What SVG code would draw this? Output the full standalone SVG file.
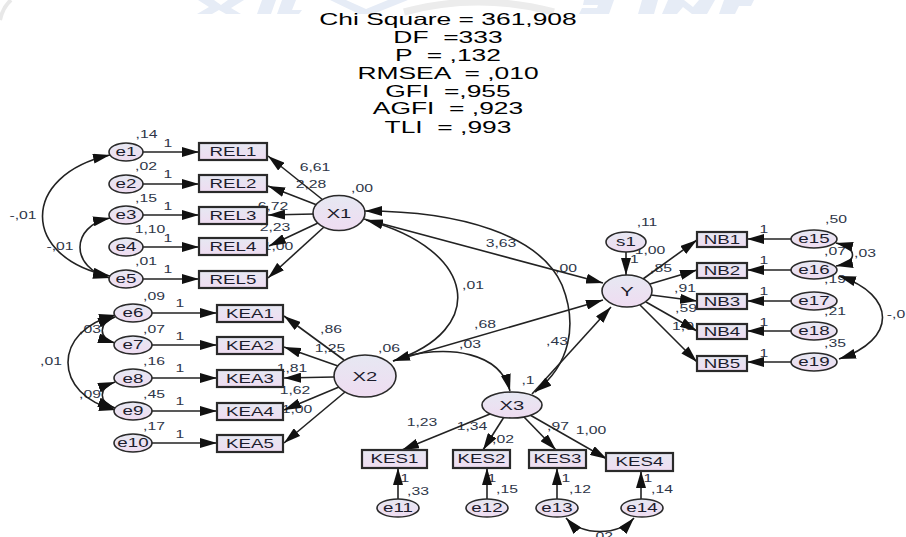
<svg xmlns="http://www.w3.org/2000/svg" width="906" height="537" viewBox="0 0 906 537">
  <defs>
    <linearGradient id="fillNode" x1="0" y1="0" x2="0" y2="1">
      <stop offset="0" stop-color="#e6e8f2"/>
      <stop offset="1" stop-color="#efdcf1"/>
    </linearGradient>
    <marker id="ah" viewBox="0 0 17 10" refX="17" refY="5" markerWidth="17" markerHeight="10" markerUnits="userSpaceOnUse" orient="auto-start-reverse">
      <path d="M0,0 L17,5 L0,10 z" fill="#111"/>
    </marker>
    <style>
      .ov { fill: url(#fillNode); stroke: #2a2a2a; stroke-width: 1.6; }
      .ob { fill: url(#fillNode); stroke: #2a2a2a; stroke-width: 2.2; }
      .nt { font-family: "Liberation Sans", Arial, sans-serif; font-size: 12.5px; fill: #1c1c2c; text-anchor: middle; }
      .lt { font-family: "Liberation Sans", Arial, sans-serif; font-size: 13.5px; fill: #1c1c2c; text-anchor: middle; }
      .cf { font-family: "Liberation Sans", Arial, sans-serif; font-size: 10.5px; fill: #2e3648; text-anchor: middle; }
      .tt { font-family: "Liberation Sans", Arial, sans-serif; font-size: 16.5px; fill: #000; text-anchor: middle; white-space: pre; }
      .cn { fill: none; stroke: #222; stroke-width: 1.6; }
      .one { marker-end: url(#ah); }
      .two { marker-start: url(#ah); marker-end: url(#ah); }
      .wm { fill: #e6ecf6; }
    </style>
  </defs>

  <rect width="906" height="537" fill="#fff"/>

  <!-- faint letterhead marks along the top edge -->
  <g id="letterhead">
    <path d="M0,20 Q3,7 11,0" fill="none" stroke="#e8e8e8" stroke-width="4"/>
    <polygon class="wm" points="198,0 214,0 221,5 228,0 244,0 231,8 241,14 226,14 219,10 212,14 197,14 209,7"/>
    <polygon class="wm" points="262,0 276,0 271,14 257,14"/>
    <polygon class="wm" points="282,0 296,0 292,10 302,10 299,14 277,14"/>
    <polygon class="wm" points="330,0 346,0 366,9 388,0 408,0 373,14 359,14"/>
    <path d="M404,12 Q478,-8 554,12" fill="none" stroke="#ececec" stroke-width="7"/>
    <polygon class="wm" points="584,0 614,0 609,14 579,14 582,8 597,8 598,5 583,5"/>
    <polygon class="wm" points="642,0 658,0 654,14 638,14"/>
    <polygon class="wm" points="668,0 684,0 693,7 699,0 715,0 707,14 692,14 683,7 677,14 662,14"/>
    <polygon class="wm" points="724,0 754,0 751,6 739,6 735,14 719,14"/>
  </g>

  <!-- fit statistics -->
  <g id="fit-stats" transform="scale(1.6 1)">
    <text class="tt" x="280" y="25">Chi Square = 361,908</text>
    <text class="tt" x="280" y="43">DF  =333</text>
    <text class="tt" x="280" y="61">P  = ,132</text>
    <text class="tt" x="280" y="79">RMSEA  = ,010</text>
    <text class="tt" x="280" y="97">GFI  =,955</text>
    <text class="tt" x="280" y="114">AGFI  = ,923</text>
    <text class="tt" x="280" y="133">TLI  = ,993</text>
  </g>

  <!-- estimates -->
  <g id="estimates" transform="scale(1.5 1)">
    <text class="cf" x="97.667" y="138">,14</text>
    <text class="cf" x="97.333" y="170">,02</text>
    <text class="cf" x="97.333" y="202">,15</text>
    <text class="cf" x="100" y="233">1,10</text>
    <text class="cf" x="97.333" y="265">,01</text>
    <text class="cf" x="102.667" y="300">,09</text>
    <text class="cf" x="112" y="147">1</text>
    <text class="cf" x="112" y="178">1</text>
    <text class="cf" x="112" y="210">1</text>
    <text class="cf" x="112" y="242">1</text>
    <text class="cf" x="112" y="273">1</text>
    <text class="cf" x="210" y="171">6,61</text>
    <text class="cf" x="207.333" y="188">2,28</text>
    <text class="cf" x="241.333" y="192">,00</text>
    <text class="cf" x="182" y="210">6,72</text>
    <text class="cf" x="183.333" y="231">2,23</text>
    <text class="cf" x="185.333" y="250">1,00</text>
    <text class="cf" x="15.333" y="219">-,01</text>
    <text class="cf" x="40" y="250">-,01</text>

    <text class="cf" x="120" y="307">1</text>
    <text class="cf" x="120" y="340">1</text>
    <text class="cf" x="120" y="372">1</text>
    <text class="cf" x="120" y="405">1</text>
    <text class="cf" x="120" y="438">1</text>
    <text class="cf" x="60" y="333">,03</text>
    <text class="cf" x="102.667" y="333">,07</text>
    <text class="cf" x="34" y="365">,01</text>
    <text class="cf" x="102.667" y="365">,16</text>
    <text class="cf" x="60" y="398">,09</text>
    <text class="cf" x="102.667" y="398">,45</text>
    <text class="cf" x="102.667" y="430">,17</text>
    <text class="cf" x="220.667" y="333">,86</text>
    <text class="cf" x="220" y="352">1,25</text>
    <text class="cf" x="194.667" y="372">1,81</text>
    <text class="cf" x="196.667" y="394">1,62</text>
    <text class="cf" x="198" y="413">1,00</text>
    <text class="cf" x="259.333" y="352">,06</text>

    <text class="cf" x="334" y="247">3,63</text>
    <text class="cf" x="377.333" y="272">,00</text>
    <text class="cf" x="315.333" y="289">,01</text>
    <text class="cf" x="323.333" y="328">,68</text>
    <text class="cf" x="313.333" y="348">,03</text>
    <text class="cf" x="371.333" y="345">,43</text>
    <text class="cf" x="352" y="384">,1</text>

    <text class="cf" x="431.333" y="226">,11</text>
    <text class="cf" x="433.333" y="254">1,00</text>
    <text class="cf" x="423" y="263">1</text>
    <text class="cf" x="440.667" y="272">,85</text>
    <text class="cf" x="456.667" y="292">,91</text>
    <text class="cf" x="457.333" y="312">,59</text>
    <text class="cf" x="455.333" y="330">1,0</text>
    <text class="cf" x="509.333" y="233">1</text>
    <text class="cf" x="509.333" y="264">1</text>
    <text class="cf" x="509.333" y="295">1</text>
    <text class="cf" x="509.333" y="326">1</text>
    <text class="cf" x="509.333" y="357">1</text>
    <text class="cf" x="557.333" y="223">,50</text>
    <text class="cf" x="556.667" y="255">,07</text>
    <text class="cf" x="576.667" y="257">,03</text>
    <text class="cf" x="556.667" y="283">,19</text>
    <text class="cf" x="556.667" y="315">,21</text>
    <text class="cf" x="556.667" y="347">,35</text>
    <text class="cf" x="597.333" y="318">-,0</text>

    <text class="cf" x="281.333" y="426">1,23</text>
    <text class="cf" x="314.667" y="430">1,34</text>
    <text class="cf" x="335.333" y="443">,02</text>
    <text class="cf" x="372" y="430">,97</text>
    <text class="cf" x="394" y="434">1,00</text>
    <text class="cf" x="270" y="482">1</text>
    <text class="cf" x="278.667" y="495">,33</text>
    <text class="cf" x="328" y="482">1</text>
    <text class="cf" x="338" y="493">,15</text>
    <text class="cf" x="377.333" y="482">1</text>
    <text class="cf" x="386.667" y="493">,12</text>
    <text class="cf" x="432" y="482">1</text>
    <text class="cf" x="441.333" y="493">,14</text>
    <text class="cf" x="401.333" y="540">,02</text>
  </g>

  <!-- paths and covariances -->
  <g id="connectors">
    <path class="cn one" d="M143,152 H199"/>
    <path class="cn one" d="M143,184 H199"/>
    <path class="cn one" d="M143,215 H199"/>
    <path class="cn one" d="M143,247 H199"/>
    <path class="cn one" d="M143,279 H199"/>
    <path class="cn one" d="M323,200 L268,156"/>
    <path class="cn one" d="M317,205 L268,186"/>
    <path class="cn one" d="M314,214 L268,215"/>
    <path class="cn one" d="M318,223 L269,246"/>
    <path class="cn one" d="M324,227 L268,278"/>

    <path class="cn one" d="M152,313 H217"/>
    <path class="cn one" d="M152,345 H217"/>
    <path class="cn one" d="M152,378 H217"/>
    <path class="cn one" d="M152,411 H217"/>
    <path class="cn one" d="M152,443 H217"/>
    <path class="cn one" d="M344,360 L284,316"/>
    <path class="cn one" d="M338,366 L284,347"/>
    <path class="cn one" d="M334,377 L284,378"/>
    <path class="cn one" d="M339,387 L284,410"/>
    <path class="cn one" d="M345,392 L284,443"/>

    <path class="cn one" d="M791,239 H747"/>
    <path class="cn one" d="M791,270 H747"/>
    <path class="cn one" d="M791,301 H747"/>
    <path class="cn one" d="M791,331 H747"/>
    <path class="cn one" d="M791,362 H747"/>
    <path class="cn one" d="M643,279 L697,240"/>
    <path class="cn one" d="M650,284 L697,270"/>
    <path class="cn one" d="M651,295 L697,301"/>
    <path class="cn one" d="M646,302 L697,331"/>
    <path class="cn one" d="M640,305 L697,362"/>
    <path class="cn one" d="M626,252 V275"/>

    <path class="cn one" d="M398,499 V468"/>
    <path class="cn one" d="M487,499 V468"/>
    <path class="cn one" d="M557,499 V468"/>
    <path class="cn one" d="M641,499 V471"/>
    <path class="cn one" d="M490,414 L402,450"/>
    <path class="cn one" d="M504,417 L483,450"/>
    <path class="cn one" d="M524,417 L556,450"/>
    <path class="cn one" d="M530,415 L607,459"/>

    <path class="cn one" d="M364,219 L603,283"/>
    <path class="cn one" d="M393,361 L603,300"/>
    <path class="cn one" d="M532,394 L611,307"/>
    <path class="cn one" d="M403,357 C450,345 500,352 510,391"/>

    <path class="cn two" d="M366,220 C478,250 488,330 393,361"/>
    <path class="cn two" d="M365,211 C460,211 540,235 562,285 C578,325 570,365 535,392"/>

    <path class="cn two" d="M110,155 C20,175 20,258 110,276"/>
    <path class="cn two" d="M110,218 C70,226 70,268 110,278"/>
    <path class="cn two" d="M115,317 C98,323 98,338 115,343"/>
    <path class="cn two" d="M116,315 C52,330 52,395 116,410"/>
    <path class="cn two" d="M115,382 C98,388 98,402 115,408"/>
    <path class="cn two" d="M836,243 C858,248 858,262 836,266"/>
    <path class="cn two" d="M839,276 C897,295 897,340 839,359"/>
    <path class="cn two" d="M566,518 C582,536 618,536 634,518"/>
  </g>

  <!-- reliability indicators -->
  <g id="e1"><ellipse class="ov" cx="126" cy="152" rx="17" ry="9"/><text class="nt" x="84" y="156.5" transform="scale(1.5 1)">e1</text></g>
  <g id="e2"><ellipse class="ov" cx="126" cy="184" rx="17" ry="9"/><text class="nt" x="84" y="188.5" transform="scale(1.5 1)">e2</text></g>
  <g id="e3"><ellipse class="ov" cx="126" cy="215" rx="17" ry="9"/><text class="nt" x="84" y="219.5" transform="scale(1.5 1)">e3</text></g>
  <g id="e4"><ellipse class="ov" cx="126" cy="247" rx="17" ry="9"/><text class="nt" x="84" y="251.5" transform="scale(1.5 1)">e4</text></g>
  <g id="e5"><ellipse class="ov" cx="126" cy="279" rx="17" ry="9"/><text class="nt" x="84" y="283.5" transform="scale(1.5 1)">e5</text></g>
  <g id="REL1"><rect class="ob" x="199" y="143" width="68" height="17"/><text class="nt" x="155.333" y="156" transform="scale(1.5 1)">REL1</text></g>
  <g id="REL2"><rect class="ob" x="199" y="175" width="68" height="17"/><text class="nt" x="155.333" y="188" transform="scale(1.5 1)">REL2</text></g>
  <g id="REL3"><rect class="ob" x="199" y="207" width="68" height="17"/><text class="nt" x="155.333" y="220" transform="scale(1.5 1)">REL3</text></g>
  <g id="REL4"><rect class="ob" x="199" y="238" width="68" height="17"/><text class="nt" x="155.333" y="251" transform="scale(1.5 1)">REL4</text></g>
  <g id="REL5"><rect class="ob" x="199" y="271" width="68" height="17"/><text class="nt" x="155.333" y="284" transform="scale(1.5 1)">REL5</text></g>
  <g id="X1"><ellipse class="ov" cx="339" cy="213" rx="26" ry="17.5"/><text class="lt" x="226" y="218" transform="scale(1.5 1)">X1</text></g>

  <!-- KEA indicators -->
  <g id="e6"><ellipse class="ov" cx="133" cy="313" rx="19" ry="9"/><text class="nt" x="88.667" y="317.5" transform="scale(1.5 1)">e6</text></g>
  <g id="e7"><ellipse class="ov" cx="133" cy="345" rx="19" ry="9"/><text class="nt" x="88.667" y="349.5" transform="scale(1.5 1)">e7</text></g>
  <g id="e8"><ellipse class="ov" cx="133" cy="378" rx="19" ry="9"/><text class="nt" x="88.667" y="382.5" transform="scale(1.5 1)">e8</text></g>
  <g id="e9"><ellipse class="ov" cx="133" cy="411" rx="19" ry="9"/><text class="nt" x="88.667" y="415.5" transform="scale(1.5 1)">e9</text></g>
  <g id="e10"><ellipse class="ov" cx="133" cy="443" rx="19" ry="9"/><text class="nt" x="88.667" y="447.5" transform="scale(1.5 1)">e10</text></g>
  <g id="KEA1"><rect class="ob" x="217" y="305" width="66" height="17"/><text class="nt" x="166.667" y="318" transform="scale(1.5 1)">KEA1</text></g>
  <g id="KEA2"><rect class="ob" x="217" y="337" width="66" height="17"/><text class="nt" x="166.667" y="350" transform="scale(1.5 1)">KEA2</text></g>
  <g id="KEA3"><rect class="ob" x="217" y="370" width="66" height="17"/><text class="nt" x="166.667" y="383" transform="scale(1.5 1)">KEA3</text></g>
  <g id="KEA4"><rect class="ob" x="217" y="403" width="66" height="17"/><text class="nt" x="166.667" y="416" transform="scale(1.5 1)">KEA4</text></g>
  <g id="KEA5"><rect class="ob" x="217" y="435" width="66" height="17"/><text class="nt" x="166.667" y="448" transform="scale(1.5 1)">KEA5</text></g>
  <g id="X2"><ellipse class="ov" cx="365" cy="376" rx="31" ry="21"/><text class="lt" x="243.333" y="381" transform="scale(1.5 1)">X2</text></g>

  <!-- KES indicators -->
  <g id="X3"><ellipse class="ov" cx="512" cy="405" rx="30" ry="13"/><text class="lt" x="341.333" y="410" transform="scale(1.5 1)">X3</text></g>
  <g id="KES1"><rect class="ob" x="362" y="450" width="65" height="18"/><text class="nt" x="263" y="463.5" transform="scale(1.5 1)">KES1</text></g>
  <g id="KES2"><rect class="ob" x="453" y="450" width="57" height="18"/><text class="nt" x="321" y="463.5" transform="scale(1.5 1)">KES2</text></g>
  <g id="KES3"><rect class="ob" x="529" y="450" width="57" height="18"/><text class="nt" x="371.667" y="463.5" transform="scale(1.5 1)">KES3</text></g>
  <g id="KES4"><rect class="ob" x="606" y="453" width="67" height="18"/><text class="nt" x="426.333" y="466.5" transform="scale(1.5 1)">KES4</text></g>
  <g id="e11"><ellipse class="ov" cx="398" cy="508" rx="21" ry="9"/><text class="nt" x="265.333" y="512.5" transform="scale(1.5 1)">e11</text></g>
  <g id="e12"><ellipse class="ov" cx="487" cy="508" rx="21" ry="9"/><text class="nt" x="324.667" y="512.5" transform="scale(1.5 1)">e12</text></g>
  <g id="e13"><ellipse class="ov" cx="557" cy="508" rx="21" ry="9"/><text class="nt" x="371.333" y="512.5" transform="scale(1.5 1)">e13</text></g>
  <g id="e14"><ellipse class="ov" cx="642" cy="508" rx="21" ry="9"/><text class="nt" x="428" y="512.5" transform="scale(1.5 1)">e14</text></g>

  <!-- outcome and NB indicators -->
  <g id="s1"><ellipse class="ov" cx="626" cy="242" rx="20" ry="10"/><text class="nt" x="417.333" y="246.5" transform="scale(1.5 1)">s1</text></g>
  <g id="Y"><ellipse class="ov" cx="627" cy="291" rx="25" ry="16"/><text class="lt" x="418" y="296" transform="scale(1.5 1)">Y</text></g>
  <g id="NB1"><rect class="ob" x="697" y="232" width="50" height="15"/><text class="nt" x="481.333" y="244" transform="scale(1.5 1)">NB1</text></g>
  <g id="NB2"><rect class="ob" x="697" y="263" width="50" height="15"/><text class="nt" x="481.333" y="275" transform="scale(1.5 1)">NB2</text></g>
  <g id="NB3"><rect class="ob" x="697" y="294" width="50" height="15"/><text class="nt" x="481.333" y="306" transform="scale(1.5 1)">NB3</text></g>
  <g id="NB4"><rect class="ob" x="697" y="324" width="50" height="15"/><text class="nt" x="481.333" y="336" transform="scale(1.5 1)">NB4</text></g>
  <g id="NB5"><rect class="ob" x="697" y="356" width="50" height="15"/><text class="nt" x="481.333" y="368" transform="scale(1.5 1)">NB5</text></g>
  <g id="e15"><ellipse class="ov" cx="814" cy="239" rx="23" ry="9"/><text class="nt" x="542.667" y="243.5" transform="scale(1.5 1)">e15</text></g>
  <g id="e16"><ellipse class="ov" cx="814" cy="270" rx="23" ry="9"/><text class="nt" x="542.667" y="274.5" transform="scale(1.5 1)">e16</text></g>
  <g id="e17"><ellipse class="ov" cx="814" cy="301" rx="23" ry="9"/><text class="nt" x="542.667" y="305.5" transform="scale(1.5 1)">e17</text></g>
  <g id="e18"><ellipse class="ov" cx="814" cy="331" rx="23" ry="9"/><text class="nt" x="542.667" y="335.5" transform="scale(1.5 1)">e18</text></g>
  <g id="e19"><ellipse class="ov" cx="814" cy="362" rx="23" ry="9"/><text class="nt" x="542.667" y="366.5" transform="scale(1.5 1)">e19</text></g>
</svg>
